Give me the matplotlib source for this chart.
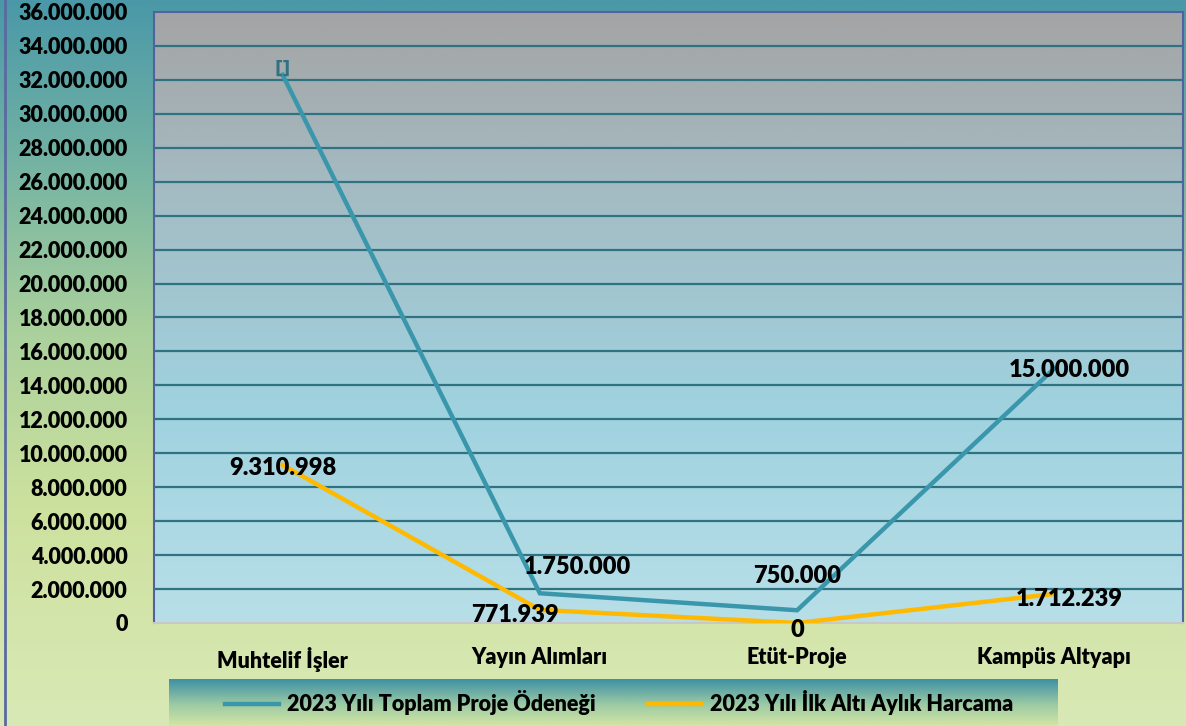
import numpy as np
import matplotlib.pyplot as plt
from matplotlib.colors import LinearSegmentedColormap
from matplotlib.lines import Line2D

# data
categories = ["Muhtelif İşler", "Yayın Alımları", "Etüt-Proje", "Kampüs Altyapı"]
toplam_odenek = [32300000, 1750000, 750000, 15000000]
ilk_alti_ay = [9310998, 771939, 0, 1712239]
toplam_labels = ["[]", "1.750.000", "750.000", "15.000.000"]
harcama_labels = ["9.310.998", "771.939", "0", "1.712.239"]
series_names = ["2023 Yılı Toplam Proje Ödeneği", "2023 Yılı İlk Altı Aylık Harcama"]
yticks = list(range(0, 36000001, 2000000))

plt.rcParams['font.family'] = ['Lato', 'DejaVu Sans']
plt.rcParams['font.weight'] = 'bold'

TEAL = '#3a97ab'
GOLD = '#ffb900'

fig = plt.figure(figsize=(11.86, 7.26), dpi=100)

# figure background gradient (teal -> green -> pale)
bg = fig.add_axes([0, 0, 1, 1], zorder=-10)
bg_cmap = LinearSegmentedColormap.from_list(
    "bg", [(0, '#d9e9b6'), (0.3, '#cde19e'), (0.55, '#a9d09c'), (0.8, '#6fb0a4'), (1, '#4a98a8')])
bg.imshow(np.linspace(0, 1, 256).reshape(-1, 1), cmap=bg_cmap, aspect='auto',
          extent=[0, 1, 0, 1], origin='lower')
bg.axvline(0.004, color='#5a6aa0', lw=2)
bg.set_xlim(0, 1)
bg.set_ylim(0, 1)
bg.axis('off')

# plot area
ax = fig.add_axes([0.1298, 0.1419, 0.8677, 0.8416])
pa_cmap = LinearSegmentedColormap.from_list(
    "pa", [(0, '#b8dfe8'), (0.35, '#9fd2df'), (0.7, '#a4bcc4'), (1, '#a4a4a4')])
ax.imshow(np.linspace(0, 1, 256).reshape(-1, 1), cmap=pa_cmap, aspect='auto',
          extent=[0, 1, 0, 1], origin='lower', transform=ax.transAxes, zorder=0)

x = np.arange(len(categories))
ax.plot(x, toplam_odenek, color=TEAL, lw=3.2, zorder=3, solid_joinstyle='miter')
ax.plot(x, ilk_alti_ay, color=GOLD, lw=3.2, zorder=3, solid_joinstyle='miter')

ax.set_xlim(-0.5, len(categories) - 0.5)
ax.set_ylim(0, 36000000)
ax.set_yticks(yticks)
ax.set_yticklabels([f"{v:,}".replace(",", ".") for v in yticks])
ax.set_xticks(x)
ax.set_xticklabels(categories)
ax.tick_params(axis='y', length=0, pad=19, labelsize=15.5)
ax.tick_params(axis='x', length=0, pad=17, labelsize=15.5)
for t in ax.get_yticklabels() + ax.get_xticklabels():
    t.set_fontweight('heavy')

for v in yticks[1:-1]:
    ax.axhline(v, color='#2f7282', lw=1.6, zorder=1)

for side in ['left', 'top', 'right']:
    ax.spines[side].set_color('#5262a0')
    ax.spines[side].set_linewidth(1.5)
ax.spines['bottom'].set_color('#c8c8c8')
ax.spines['bottom'].set_linewidth(1.5)

# data labels
lab_kw = dict(textcoords='offset points', ha='center', va='center',
              fontsize=17, fontweight='heavy', color='black', zorder=5,
              annotation_clip=False)
toplam_offsets = [(0, 4), (27, 19), (0, 25), (11, -1)]
harcama_offsets = [(0, -2), (-18, -4), (0, -5), (11, -4)]
for i in range(len(categories)):
    if toplam_labels[i] == "[]":
        ax.annotate(toplam_labels[i], (x[i], toplam_odenek[i]), xytext=toplam_offsets[i],
                    textcoords='offset points', ha='center', va='center', fontsize=13,
                    fontweight='bold', color='#2f7282', zorder=5, family='DejaVu Sans')
    else:
        ax.annotate(toplam_labels[i], (x[i], toplam_odenek[i]), xytext=toplam_offsets[i], **lab_kw)
    ax.annotate(harcama_labels[i], (x[i], ilk_alti_ay[i]), xytext=harcama_offsets[i], **lab_kw)

# legend with gradient box
lg_box = fig.add_axes([0.1425, 0.0, 0.7495, 0.065], zorder=5)
lg_cmap = LinearSegmentedColormap.from_list(
    "lg", [(0, '#d3e6a4'), (0.45, '#9ccaa4'), (1, '#3a8ea4')])
lg_box.imshow(np.linspace(0, 1, 256).reshape(-1, 1), cmap=lg_cmap, aspect='auto',
              extent=[0, 1, 0, 1], origin='lower')
lg_box.set_xlim(0, 1)
lg_box.set_ylim(0, 1)
lg_box.axis('off')

handles = [Line2D([], [], color=TEAL, lw=3.2), Line2D([], [], color=GOLD, lw=3.2)]
leg = fig.legend(handles, series_names, loc='center', bbox_to_anchor=(0.522, 0.0317),
                 ncol=2, frameon=False, handlelength=2.5, handletextpad=0.4,
                 columnspacing=2.4, prop={'weight': 'heavy', 'size': 15.5})
leg.set_zorder(6)

fig.savefig("out.png", dpi=100)
